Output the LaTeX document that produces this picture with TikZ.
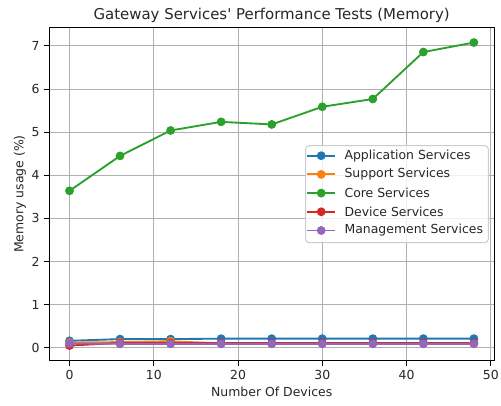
\documentclass[tikz,border=0pt]{standalone}
\usepackage{fontspec}
\setmainfont{DejaVu Sans}[Ligatures=TeXOff]
\definecolor{tabblue}{HTML}{1F77B4}
\definecolor{taborange}{HTML}{FF7F0E}
\definecolor{tabgreen}{HTML}{2CA02C}
\definecolor{tabred}{HTML}{D62728}
\definecolor{tabpurple}{HTML}{9467BD}
\definecolor{gridgray}{HTML}{B0B0B0}
\definecolor{legendedge}{HTML}{CCCCCC}
\definecolor{txt}{HTML}{262626}
\tikzset{
  gridline/.style={draw=gridgray, line width=0.72pt},
  spine/.style={draw=black, line width=0.72pt},
  tickmark/.style={draw=black, line width=0.72pt},
  ticklabel/.style={font=\fontsize{8.96}{10.8}\selectfont, text=txt, inner sep=0pt},
  series/.style={line width=1.34pt, line join=round, mark=*, mark size=2.7pt,
                 mark options={line width=0.9pt, solid}},
  legendline/.style={line width=1.34pt},
  legendmark/.style={line width=0.9pt},
  legendtext/.style={font=\fontsize{8.96}{10.8}\selectfont, text=txt, anchor=west, inner sep=0pt},
}
\begin{document}
\begin{tikzpicture}[x=0.72pt, y=-0.72pt]
\useasboundingbox (0,0) rectangle (501,405);
% plot area and grid
\foreach \t in {0,10,...,50}
  \draw[gridline] ({69.5+8.425*\t},28) -- ({69.5+8.425*\t},360.7);
\foreach \v in {0,...,7}
  \draw[gridline] (49.3,{347.7-43.1*\v}) -- (494,{347.7-43.1*\v});
% ticks and tick labels
\foreach \t in {0,10,...,50} {
  \draw[tickmark] ({69.5+8.425*\t},360.7) -- ({69.5+8.425*\t},365.6);
  \node[ticklabel, anchor=north] (xt\t) at ({69.5+8.425*\t},370.2) {\t};
}
\foreach \v in {0,...,7} {
  \draw[tickmark] (49.3,{347.7-43.1*\v}) -- (44.4,{347.7-43.1*\v});
  \node[ticklabel, anchor=east] (yt\v) at (39.8,{347.7-43.1*\v}) {\v};
}
% data series
\begin{scope}[shift={(69.5,347.7)}, x=6.066pt, y=31.032pt]
  \draw[series, tabblue] plot coordinates {(0,0.16) (6,0.20) (12,0.20) (18,0.21) (24,0.21) (30,0.21) (36,0.21) (42,0.21) (48,0.21)};
  \draw[series, taborange] plot coordinates {(0,0.12) (6,0.13) (12,0.15) (18,0.10) (24,0.10) (30,0.10) (36,0.10) (42,0.10) (48,0.10)};
  \draw[series, tabgreen] plot coordinates {(0,3.64) (6,4.45) (12,5.04) (18,5.24) (24,5.18) (30,5.59) (36,5.77) (42,6.86) (48,7.08)};
  \draw[series, tabred] plot coordinates {(0,0.05) (6,0.11) (12,0.11) (18,0.11) (24,0.11) (30,0.11) (36,0.11) (42,0.11) (48,0.11)};
  \draw[series, tabpurple] plot coordinates {(0,0.10) (6,0.09) (12,0.09) (18,0.09) (24,0.09) (30,0.09) (36,0.09) (42,0.09) (48,0.09)};
\end{scope}
% frame
\draw[spine] (49.3,28) rectangle (494,360.7);
% legend
\fill[white, fill opacity=0.8, rounded corners=2.5pt] (305.7,145.7) rectangle (488.3,242.7);
\draw[legendedge, line width=0.72pt, rounded corners=2.5pt] (305.7,145.7) rectangle (488.3,242.7);
\foreach \c/\n/\y/\lab in {tabblue/la/155.7/Application Services,
                           taborange/lb/174.4/Support Services,
                           tabgreen/lc/193.1/Core Services,
                           tabred/ld/211.8/Device Services,
                           tabpurple/le/230.5/Management Services} {
  \draw[legendline, \c] (307.3,\y) -- (335,\y);
  \filldraw[legendmark, \c] (321.2,\y) circle[radius=2.7pt];
  \node[legendtext] (\n) at (344.3,\y) {\lab};
}
% labels
\node[font=\fontsize{10.75}{13}\selectfont, text=txt, inner sep=0pt] (title) at (271.7,15.5) {Gateway Services' Performance Tests (Memory)};
\node[font=\fontsize{8.96}{10.8}\selectfont, text=txt, inner sep=0pt] (xlabel) at (271.7,391.5) {Number Of Devices};
\node[font=\fontsize{8.96}{10.8}\selectfont, text=txt, inner sep=0pt, rotate=90] (ylabel) at (20,194) {Memory usage (\%)};
\end{tikzpicture}
\end{document}
